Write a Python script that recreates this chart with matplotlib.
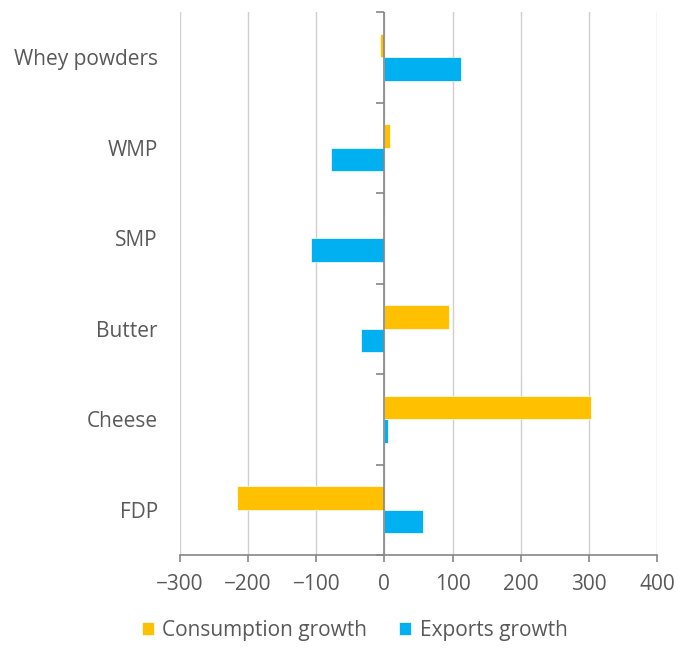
import numpy as np
import matplotlib
matplotlib.use('Agg')
import matplotlib.pyplot as plt
from matplotlib.markers import TICKLEFT

plt.rcParams['font.family'] = ['Open Sans', 'DejaVu Sans']

categories = ['Whey powders', 'WMP', 'SMP', 'Butter', 'Cheese', 'FDP']
consumption = [-6, 8, 0, 95, 303, -217]
exports = [112, -78, -108, -34, 5, 56]

orange = '#FFC000'
blue = '#00B0F0'
grey_text = '#595959'
axis_grey = '#868686'
grid_grey = '#CFCFCF'

fig = plt.figure(figsize=(6.91, 6.48), dpi=100)
ax = fig.add_axes([180/691, 1-555/648, 477/691, 543/648])

y = np.arange(len(categories))
h = 0.26
ax.barh(y - h/2, consumption, height=h, color=orange, edgecolor='white', linewidth=0.5,
        label='Consumption growth', zorder=3)
ax.barh(y + h/2, exports, height=h, color=blue, edgecolor='white', linewidth=0.5,
        label='Exports growth', zorder=3)

ax.set_xlim(-300, 400)
ax.set_ylim(len(categories) - 0.5, -0.5)
ax.set_xticks(np.arange(-300, 401, 100))
ax.set_yticks(y, categories)
ax.tick_params(axis='y', length=0, pad=16, labelsize=15, labelcolor=grey_text)
ax.tick_params(axis='x', length=5, width=1.2, color=axis_grey, pad=9,
               labelsize=15, labelcolor=grey_text)

ax.grid(axis='x', color=grid_grey, linewidth=1, zorder=0)
for s in ['top', 'right', 'left']:
    ax.spines[s].set_visible(False)
ax.spines['bottom'].set_color(axis_grey)
ax.spines['bottom'].set_linewidth(1.2)

# vertical axis at zero with category boundary ticks
ax.axvline(0, color=axis_grey, linewidth=1.2, zorder=4)
bounds = np.arange(len(categories) + 1) - 0.5
ax.plot(np.zeros(len(bounds)), bounds, ls='none', marker=TICKLEFT, markersize=6,
        markeredgewidth=1.2, color=axis_grey, zorder=4, clip_on=False)

fig.legend(loc='lower center', bbox_to_anchor=(0.513, -0.018), ncol=2, frameon=False,
           fontsize=15, labelcolor=grey_text, handlelength=0.6, handleheight=0.6,
           handletextpad=0.4, columnspacing=1.5)

fig.savefig('out.png', dpi=100)
